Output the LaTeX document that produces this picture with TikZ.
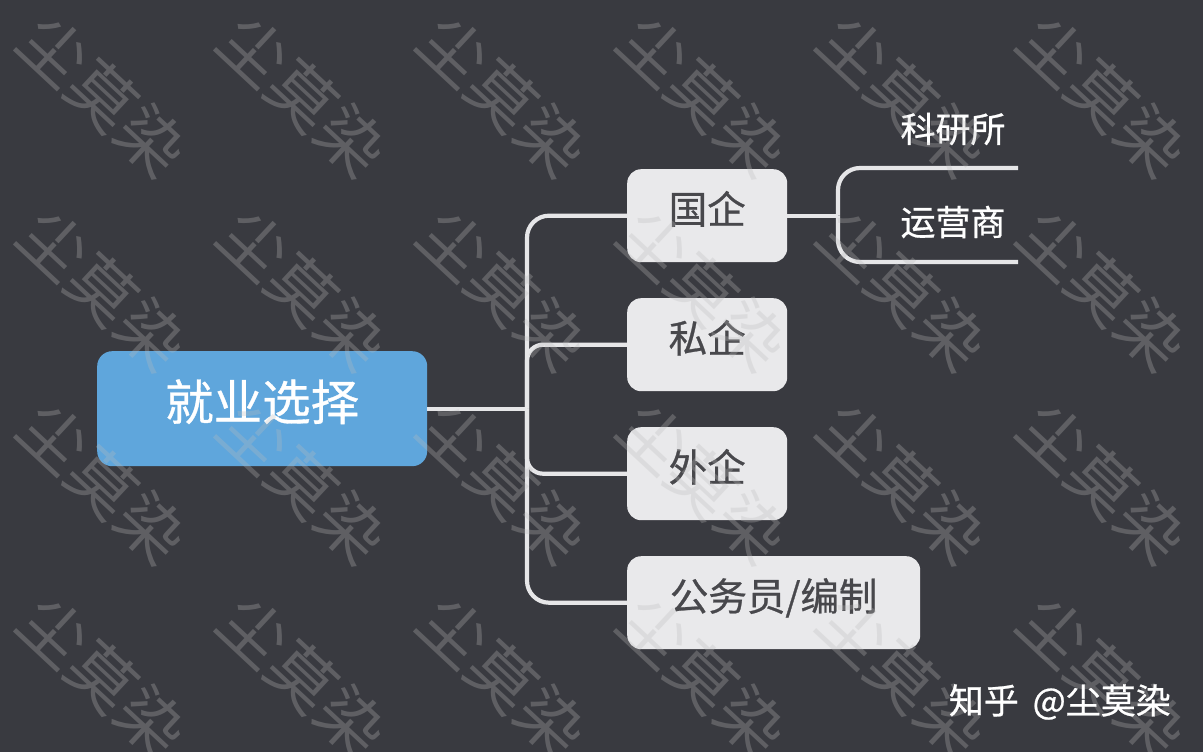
\documentclass[tikz,border=0pt]{standalone}
\usepackage{fontspec}
\setmainfont{Noto Sans CJK SC}
\newfontfamily\heavier[FakeBold=0.7]{Noto Sans CJK SC}
\definecolor{bgc}{HTML}{393A40}
\definecolor{linec}{HTML}{E6E6E8}
\definecolor{boxc}{HTML}{E9E9EB}
\definecolor{rootc}{HTML}{5FA6DC}
\definecolor{inkc}{HTML}{48484C}
\definecolor{markc}{HTML}{BCBCBC}
\tikzset{
  conn/.style={draw=linec,line width=4.2pt},
  topic/.style={fill=boxc,rounded corners=14pt,text=inkc,inner sep=0pt,font=\heavier\fontsize{38.5}{38}\selectfont,anchor=north west,text height=30pt,text depth=14pt,minimum height=93pt},
  rootbox/.style={fill=rootc,rounded corners=15pt,text=white,inner sep=0pt,font=\heavier\fontsize{48.5}{48}\selectfont,anchor=north west,minimum width=330pt,minimum height=115pt,text height=36pt,text depth=13pt},
  leaf/.style={text=white,inner sep=0pt,font=\heavier\fontsize{35}{35}\selectfont},
  wm/.style={text=markc,text opacity=.29,inner sep=0pt,rotate=-43,font=\fontsize{66}{66}\selectfont},
  credit/.style={text=white,inner sep=0pt,font=\heavier\fontsize{35}{36}\selectfont,anchor=east}
}
\begin{document}
\begin{tikzpicture}[x=1pt,y=-1pt]
\path[use as bounding box,fill=bgc] (0,0) rectangle (1203,752);
\node[rootbox] (root) at (97,351) {就业选择};
\node[topic,minimum width=160pt] (gq) at (627,169) {国企};
\node[topic,minimum width=160pt] (sq) at (627,298) {私企};
\node[topic,minimum width=160pt] (wq) at (627,427) {外企};
\node[topic,minimum width=293pt] (gwy) at (627,556) {公务员/编制};
\node[leaf] (ky) at (953,129) {科研所};
\node[leaf] (yy) at (953,222) {运营商};
\coordinate (tx) at (527,0);
\coordinate (sx) at (838,0);
\coordinate (trunk) at (tx |- root.east);
\coordinate (split) at (sx |- gq.east);
\coordinate (kyend) at (1018,168);
\coordinate (yyend) at (1018,262);
\draw[conn] (root.east) -- (trunk);
\draw[conn,rounded corners=22pt] (trunk) |- (gq.west);
\draw[conn,rounded corners=22pt] (trunk) |- (gwy.west);
\draw[conn,rounded corners=16pt] (trunk) |- (sq.west);
\draw[conn,rounded corners=16pt] (trunk) |- (wq.west);
\draw[conn] (gq.east) -- (split);
\draw[conn,rounded corners=22pt] (split) |- (kyend);
\draw[conn,rounded corners=22pt] (split) |- (yyend);
\foreach \cx in {103,303,503,703,903,1103}
  \foreach \cy in {96,289.5,483,676.5}
    \node[wm] at (\cx,\cy) {尘莫染};
\node[credit] (zh) at (1171,702) {知乎\hspace{6pt} @尘莫染};
\end{tikzpicture}
\end{document}
